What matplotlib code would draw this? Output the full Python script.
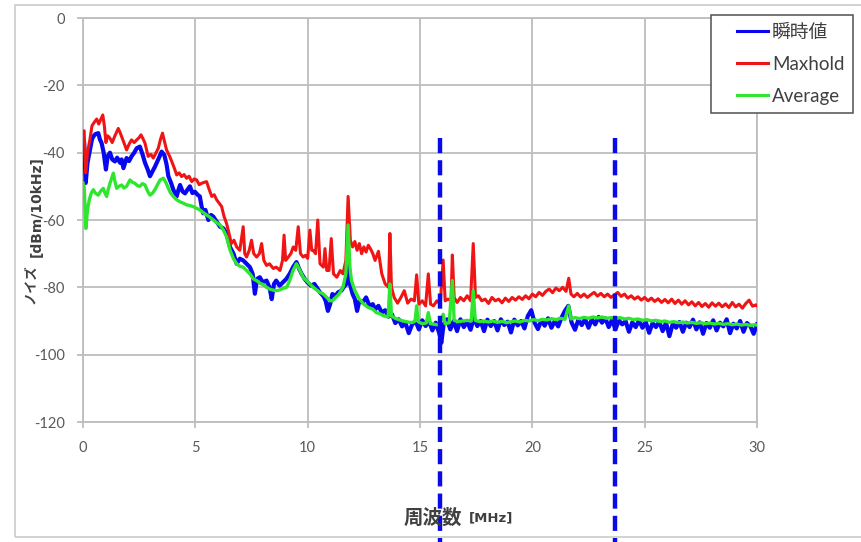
#!/usr/bin/env python
# -*- encoding: utf-8 -*-

'''noise spectrum: instantaneous / maxhold / average
'''

import matplotlib
matplotlib.use('Agg')
import matplotlib.pyplot as plt
from matplotlib.legend_handler import HandlerLine2D
from matplotlib.patches import Rectangle

plt.rcParams['font.family'] = ['Lato', 'Noto Sans CJK JP', 'DejaVu Sans']
plt.rcParams['axes.unicode_minus'] = False

# 瞬時値 (blue)
freq_inst = [
    0.0, 0.05, 0.12, 0.2, 0.31, 0.4, 0.46, 0.55, 0.68, 0.75, 0.83, 0.92, 1.02, 1.1, 1.2, 1.3,
    1.42, 1.52, 1.65, 1.72, 1.8, 1.94, 2.05, 2.16, 2.28, 2.39, 2.53, 2.65, 2.76, 2.88, 2.98,
    3.1, 3.2, 3.35, 3.5, 3.62, 3.72, 3.8, 3.92, 4.02, 4.17, 4.25, 4.32, 4.43, 4.54, 4.65,
    4.76, 4.87, 4.98, 5.1, 5.2, 5.28, 5.35, 5.45, 5.58, 5.7, 5.8, 5.95, 6.1, 6.25, 6.39,
    6.54, 6.7, 6.84, 6.98, 7.13, 7.28, 7.43, 7.55, 7.65, 7.75, 7.87, 8.0, 8.17, 8.3, 8.4,
    8.5, 8.6, 8.75, 8.9, 9.05, 9.2, 9.35, 9.5, 9.62, 9.73, 9.87, 10.0, 10.15, 10.3, 10.4,
    10.55, 10.7, 10.8, 10.9, 11.0, 11.1, 11.25, 11.35, 11.5, 11.6, 11.72, 11.8, 11.88, 12.0,
    12.1, 12.2, 12.3, 12.45, 12.6, 12.75, 12.9, 13.0, 13.15, 13.3, 13.45, 13.6, 13.75, 13.9,
    14.05, 14.2, 14.35, 14.5, 14.65, 14.8, 14.95, 15.1, 15.25, 15.4, 15.55, 15.7, 15.85,
    15.95, 16.05, 16.2, 16.35, 16.5, 16.65, 16.8, 16.95, 17.1, 17.25, 17.4, 17.55, 17.7,
    17.85, 18.0, 18.15, 18.3, 18.45, 18.6, 18.75, 18.9, 19.05, 19.2, 19.35, 19.5, 19.65,
    19.8, 19.95, 20.1, 20.25, 20.4, 20.55, 20.7, 20.85, 21.0, 21.15, 21.3, 21.45, 21.6,
    21.75, 21.9, 22.05, 22.2, 22.35, 22.5, 22.65, 22.8, 22.95, 23.1, 23.25, 23.4, 23.55,
    23.7, 23.85, 24.0, 24.15, 24.3, 24.45, 24.6, 24.75, 24.9, 25.05, 25.2, 25.35, 25.5,
    25.65, 25.8, 25.95, 26.1, 26.25, 26.4, 26.55, 26.7, 26.85, 27.0, 27.15, 27.3, 27.45,
    27.6, 27.75, 27.9, 28.05, 28.2, 28.35, 28.5, 28.65, 28.8, 28.95, 29.1, 29.25, 29.4,
    29.55, 29.7, 29.85, 30.0,
]
inst_db = [
    -36, -37, -49, -43, -39.2, -36, -35.2, -34.5, -34.2, -36, -37.2, -40, -45, -41, -40, -42,
    -42.6, -41.5, -43, -42, -44.6, -41.6, -42.5, -41.1, -40, -38.7, -38.2, -40.5, -43, -45, -47,
    -45.5, -44.2, -42, -39.7, -40.7, -43.5, -47, -49, -51, -53, -51, -49.6, -51.5, -52.1, -51,
    -50, -52, -51.6, -52.5, -53, -56, -58, -57, -60, -58.5, -59, -60.5, -62, -62.5, -64,
    -68, -70, -73, -71.5, -72, -73, -74, -76, -81.9, -77.5, -77, -78.5, -78, -80, -83.5,
    -79, -78, -79.5, -78.5, -77.5, -76, -74, -72.5, -74.5, -76, -77.5, -78.6, -79.5, -79, -80,
    -81.5, -82.6, -84, -87, -85, -82, -82.5, -81.5, -81, -80, -79, -72, -79, -82,
    -83.5, -87, -84, -84.5, -83, -85.5, -85, -86.6, -85.5, -87.5, -86.8, -88.7, -88, -90.6,
    -89.5, -91.6, -90.5, -93.6, -91, -90, -92.5, -89.8, -91.5, -90, -92.8, -90.5, -93.5,
    -96.5, -91, -89.5, -92.5, -90, -93, -89.5, -91.8, -90.2, -92.6, -89, -91.5, -90,
    -93, -89.6, -91.5, -90, -92.8, -89.5, -91.2, -90.2, -93.4, -89.6, -91.3, -90, -92.2,
    -88.5, -86.8, -90.5, -92.4, -89.8, -91.4, -89.2, -92, -90, -91.6, -89, -87, -85.5,
    -90.5, -92.6, -89.6, -91.2, -89.4, -92, -89.5, -91, -88.8, -90.5, -89.2, -91.8, -89.6,
    -92.5, -89.8, -91, -90, -93.2, -90.4, -91.8, -89.8, -92, -90.3, -93.5, -90.6, -91.8,
    -90.2, -93, -90.5, -94.5, -90.8, -92, -90.3, -93.2, -90.5, -91.8, -89.6, -92.5, -90.4,
    -93.8, -90.6, -92, -89.8, -92.8, -90.5, -91.6, -89.5, -93.6, -90.8, -92.2, -90, -93.2,
    -90.6, -91.5, -93.8, -91,
]

# Maxhold (red)
freq_max = [
    0.0, 0.05, 0.12, 0.2, 0.31, 0.4, 0.5, 0.61, 0.7, 0.8, 0.88, 0.95, 1.02, 1.1, 1.2, 1.3,
    1.42, 1.57, 1.65, 1.72, 1.82, 1.94, 2.05, 2.16, 2.28, 2.39, 2.5, 2.58, 2.68, 2.76, 2.9,
    3.02, 3.13, 3.25, 3.35, 3.45, 3.54, 3.62, 3.72, 3.85, 3.95, 4.06, 4.17, 4.28, 4.39, 4.5,
    4.61, 4.72, 4.84, 4.95, 5.06, 5.17, 5.28, 5.4, 5.5, 5.62, 5.73, 5.84, 5.95, 6.06, 6.17,
    6.28, 6.39, 6.5, 6.6, 6.72, 6.84, 6.98, 7.13, 7.2, 7.28, 7.4, 7.5, 7.6, 7.73, 7.85, 7.95,
    8.05, 8.17, 8.3, 8.47, 8.6, 8.77, 8.88, 8.95, 9.02, 9.14, 9.25, 9.36, 9.47, 9.58, 9.68,
    9.8, 9.9, 10.0, 10.1, 10.18, 10.25, 10.35, 10.45, 10.55, 10.7, 10.77, 10.85, 10.95, 11.05,
    11.15, 11.3, 11.45, 11.57, 11.7, 11.8, 11.9, 12.0, 12.1, 12.2, 12.3, 12.4, 12.5, 12.6,
    12.7, 12.8, 12.9, 13.0, 13.15, 13.3, 13.45, 13.6, 13.66, 13.73, 13.85, 14.0, 14.15, 14.3,
    14.45, 14.6, 14.75, 14.85, 14.95, 15.1, 15.25, 15.37, 15.47, 15.6, 15.75, 15.9, 16.03,
    16.12, 16.25, 16.38, 16.44, 16.52, 16.65, 16.8, 16.95, 17.1, 17.25, 17.37, 17.47, 17.6,
    17.75, 17.9, 18.05, 18.2, 18.35, 18.5, 18.65, 18.8, 18.95, 19.1, 19.25, 19.4, 19.55,
    19.7, 19.85, 20.0, 20.15, 20.3, 20.45, 20.6, 20.75, 20.9, 21.05, 21.2, 21.35, 21.5,
    21.62, 21.72, 21.85, 22.0, 22.15, 22.3, 22.45, 22.6, 22.75, 22.9, 23.05, 23.2, 23.35,
    23.5, 23.65, 23.8, 23.95, 24.1, 24.25, 24.4, 24.55, 24.7, 24.85, 25.0, 25.15, 25.3,
    25.45, 25.6, 25.75, 25.9, 26.05, 26.2, 26.35, 26.5, 26.65, 26.8, 26.95, 27.1, 27.25,
    27.4, 27.55, 27.7, 27.85, 28.0, 28.15, 28.3, 28.45, 28.6, 28.75, 28.9, 29.05, 29.2,
    29.35, 29.5, 29.65, 29.8, 29.95, 30.0,
]
max_db = [
    -34, -33.5, -46, -40, -36, -32, -31, -30, -31.5, -30, -28.8, -32, -37, -35, -35.7, -37,
    -35, -32.8, -34, -35.2, -37, -39.2, -37.5, -36.2, -37, -36.2, -35.5, -34.7, -36, -37.2, -41.1,
    -40.5, -41.6, -40, -38.7, -36, -34.2, -36.5, -39.2, -41, -42.6, -44.5, -46.6, -46, -47.1, -46.5,
    -47.6, -47, -48.6, -47.8, -48.1, -49.5, -49.1, -48.8, -48.6, -51, -53, -52.5, -54, -55, -56,
    -59, -61, -64, -67, -66, -68, -69, -62, -70, -71, -69, -66, -70, -71, -70, -67,
    -72, -73.5, -73, -74.4, -74, -75, -72, -64.5, -72, -71, -70, -68, -69, -62, -70,
    -71, -70.5, -71.4, -63, -69, -69, -70, -60, -73, -74, -68.5, -75, -75, -65.5,
    -76, -77, -75, -76, -72, -53, -66, -68, -66.4, -69, -67, -70, -68, -69.5,
    -67.5, -68.6, -70, -72, -69.3, -76, -79, -80, -64, -80, -83, -84.7, -83, -81,
    -84.7, -83.5, -84, -76.3, -85, -84, -85.5, -76, -85, -85.5, -84, -85, -71.9,
    -84, -83.5, -84, -70.4, -83, -84.5, -83, -84, -82.5, -84, -67, -83, -82.5,
    -84, -83.5, -84.8, -83, -84, -83.5, -84.6, -83.2, -84.2, -83, -83.8, -82.8, -83.6,
    -82.5, -83.4, -82, -82.8, -81.5, -82.4, -81.2, -80.5, -81.6, -80.2, -81, -80, -81.2,
    -77.3, -82, -82.8, -81.8, -82.9, -82, -83, -82.2, -81.5, -82.6, -81.8, -82.8, -82,
    -83, -82.3, -81.5, -82.7, -82, -83.2, -82.5, -83.5, -82.8, -83.8, -83, -84, -83.2,
    -84.2, -83.4, -84.5, -83.6, -84.6, -83.5, -84.8, -83.8, -85, -84, -85.2, -84.3, -85.5,
    -84.5, -85.7, -84.8, -85.9, -84.6, -85.6, -84.7, -85.8, -84.9, -86, -84.5, -85.8, -85,
    -86.2, -84.8, -83.8, -85.6, -85.2, -85.5,
]

# Average (green)
freq_avg = [
    0.0, 0.05, 0.13, 0.2, 0.28, 0.37, 0.46, 0.55, 0.68, 0.78, 0.9, 0.98, 1.05, 1.12, 1.2,
    1.28, 1.35, 1.42, 1.5, 1.6, 1.72, 1.82, 1.94, 2.02, 2.09, 2.2, 2.31, 2.42, 2.53, 2.65,
    2.76, 2.88, 2.98, 3.1, 3.2, 3.32, 3.43, 3.58, 3.7, 3.8, 3.9, 4.02, 4.17, 4.32, 4.46,
    4.61, 4.75, 4.9, 5.05, 5.2, 5.35, 5.5, 5.65, 5.8, 5.95, 6.1, 6.25, 6.39, 6.55, 6.7,
    6.84, 7.0, 7.13, 7.28, 7.43, 7.58, 7.73, 7.88, 8.03, 8.17, 8.3, 8.45, 8.6, 8.75, 8.9,
    9.06, 9.2, 9.35, 9.5, 9.62, 9.73, 9.8, 9.95, 10.1, 10.25, 10.4, 10.55, 10.7, 10.85,
    11.0, 11.1, 11.25, 11.4, 11.57, 11.7, 11.8, 11.88, 11.95, 12.1, 12.3, 12.5, 12.7, 12.9,
    13.05, 13.2, 13.4, 13.58, 13.66, 13.73, 13.9, 14.05, 14.25, 14.45, 14.65, 14.78, 14.85,
    14.92, 15.1, 15.28, 15.37, 15.46, 15.65, 15.85, 16.03, 16.12, 16.3, 16.44, 16.52, 16.7,
    16.9, 17.1, 17.28, 17.37, 17.46, 17.65, 17.85, 18.05, 18.25, 18.45, 18.65, 18.85, 19.05,
    19.25, 19.45, 19.65, 19.85, 20.05, 20.25, 20.45, 20.65, 20.85, 21.05, 21.25, 21.45,
    21.62, 21.72, 21.9, 22.1, 22.3, 22.5, 22.7, 22.9, 23.1, 23.3, 23.5, 23.7, 23.9, 24.1,
    24.3, 24.5, 24.7, 24.9, 25.1, 25.3, 25.5, 25.7, 25.9, 26.1, 26.3, 26.5, 26.7, 26.9,
    27.1, 27.3, 27.5, 27.7, 27.9, 28.1, 28.3, 28.5, 28.7, 28.9, 29.1, 29.3, 29.5, 29.7,
    29.9, 30.0,
]
avg_db = [
    -49, -50, -62.5, -57, -54, -52, -51, -52, -52.6, -51.5, -50.6, -52, -53, -51, -49.1,
    -47.5, -46.1, -48.5, -50.6, -50, -49.6, -50.5, -50, -49, -48.1, -48.8, -49.1, -49.8, -50, -49.2,
    -49.6, -51.5, -52.6, -52, -51, -49.5, -48.1, -47.6, -49, -50.6, -52, -53, -54, -54.6, -55,
    -55.5, -55.7, -56, -56.5, -57, -57.8, -58.5, -59.2, -60, -60.8, -61.5, -63, -65, -69, -71.5,
    -73, -73.8, -74, -75, -76, -77.5, -78, -78.8, -79.2, -80, -80.5, -80.8, -81, -80.8, -80.3,
    -80, -78, -75, -73, -74.5, -76, -77, -78, -79, -80, -80.8, -81.5, -82, -83,
    -84, -84, -83, -82, -80, -76, -61.5, -74, -78, -81, -83.5, -85, -86, -86.5,
    -87.5, -87.8, -88.5, -88.8, -79, -88.5, -89.2, -89.6, -90, -90.3, -90.5, -90, -85.5,
    -90.2, -90.8, -90.6, -87.5, -90.8, -91, -91.2, -88, -90.8, -90.5, -78, -89.8, -90.2,
    -90, -89.8, -90, -81, -89.8, -90.2, -90, -90.3, -90, -90.4, -90.1, -90.5, -90.2,
    -90, -90.3, -89.8, -90, -89.6, -89.9, -89.5, -89.7, -89.3, -89.6, -89.2, -89.5,
    -85.5, -89.4, -89, -89.3, -88.9, -89.2, -88.8, -89.1, -88.8, -89.2, -89, -89.3, -89, -89.4,
    -89.2, -89.6, -89.4, -89.8, -89.6, -90, -89.8, -90.2, -90, -90.4, -90.2, -90.5, -90.3, -90.6,
    -90.4, -90.7, -90.5, -90.8, -90.6, -90.9, -90.7, -91, -90.8, -91.1, -90.9, -91.2, -91, -91.3,
    -91.1, -91.2,
]

marker_freqs = [15.9, 23.7]
marker_top = -35.6

x_ticks = [0, 5, 10, 15, 20, 25, 30]
y_ticks = [0, -20, -40, -60, -80, -100, -120]

grid_gray = '#bdbdbd'
text_gray = '#595959'


def plot(pic_name):
    fig = plt.figure(figsize=(8.61, 5.42), dpi=100)
    ax = fig.add_axes([83 / 861, 1 - 422 / 542, 674 / 861, 404 / 542])

    ax.plot(freq_inst, inst_db, color='#0808f0', lw=3.0, label='瞬時値', zorder=3)
    ax.plot(freq_max, max_db, color='#f01414', lw=2.2, label='Maxhold', zorder=4)
    ax.plot(freq_avg, avg_db, color='#2ee62e', lw=2.4, label='Average', zorder=5)

    for f in marker_freqs:
        ax.plot([f, f], [marker_top, -200], color='#0a0ae6', lw=3.2,
                linestyle=(0, (3.4, 1.6)), clip_on=False, zorder=6)

    ax.set_xlim(0, 30)
    ax.set_ylim(-120, 0)
    ax.set_xticks(x_ticks)
    ax.set_yticks(y_ticks)
    ax.grid(True, color=grid_gray, lw=1.3, zorder=0)
    ax.set_axisbelow(True)
    for sp in ax.spines.values():
        sp.set_color(grid_gray)
        sp.set_linewidth(1.3)
    ax.tick_params(axis='both', length=4.5, width=1.3, color=grid_gray,
                   labelcolor=text_gray, labelsize=10.5)
    ax.tick_params(axis='y', pad=8.5)
    ax.tick_params(axis='x', pad=9)

    # axis titles (two sizes like the original)
    fig.text(30 / 861, 1 - 284 / 542, 'ノイズ', rotation=90, ha='center', va='center',
             fontsize=9.5, weight='bold', color='#404040', family=['Noto Sans CJK JP'])
    fig.text(37 / 861, 1 - 207 / 542, '[dBm/10kHz]', rotation=90, ha='center', va='center',
             fontsize=10, weight='bold', color='#404040', family=['DejaVu Sans'])
    fig.text(433 / 861, 1 - 518 / 542, '周波数', ha='center', va='center',
             fontsize=14, weight='bold', color='#404040', family=['Noto Sans CJK JP'])
    fig.text(491 / 861, 1 - 518 / 542, '[MHz]', ha='center', va='center',
             fontsize=9.5, weight='bold', color='#404040', family=['DejaVu Sans'])

    leg = ax.legend(loc='upper left', bbox_to_anchor=(711 / 861, 1 - 15 / 542),
                    bbox_transform=fig.transFigure, borderaxespad=0, fancybox=False,
                    framealpha=1, edgecolor='#505050', fontsize=13.5, borderpad=0.45,
                    handlelength=2.6, handletextpad=0.2, labelspacing=0.8,
                    handler_map={plt.Line2D: HandlerLine2D(xpad=0.95)})
    leg.get_frame().set_linewidth(1.1)
    for t in leg.get_texts():
        t.set_color('#404040')
    for ln in leg.get_lines():
        ln.set_linewidth(2.2)

    # outer chart-area border
    fig.patches.append(Rectangle((15 / 861, 1 - 537 / 542), 860 / 861, 532 / 542,
                                 transform=fig.transFigure, fill=False,
                                 edgecolor='#cfcfcf', lw=1.3))

    fig.savefig(pic_name, dpi=100)


def main():
    plot('out.png')


if __name__ == '__main__':
    main()
